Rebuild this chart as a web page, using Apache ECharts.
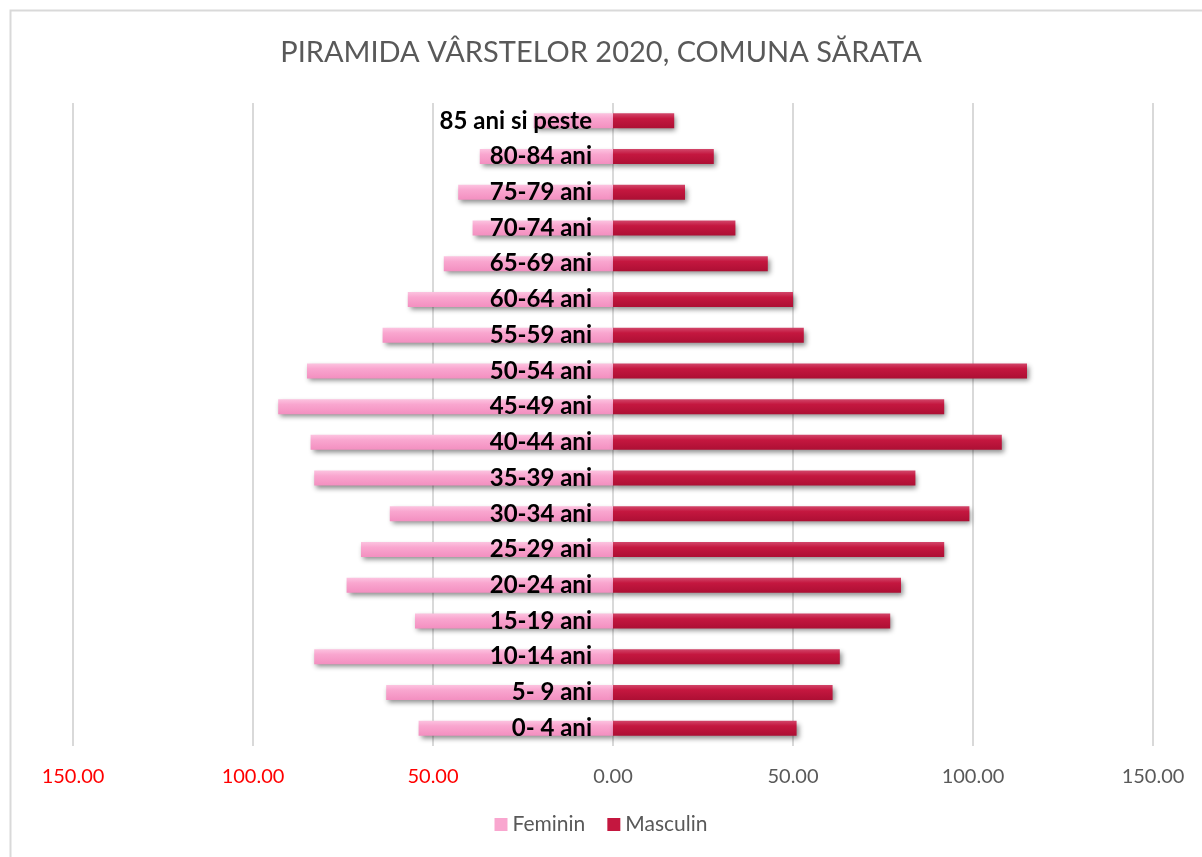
<!DOCTYPE html>
<html>
<head>
<meta charset="utf-8">
<title>Piramida varstelor 2020</title>
<script src="https://cdn.jsdelivr.net/npm/echarts@6/dist/echarts.min.js"></script>
<style>
  html, body { margin: 0; padding: 0; background: #fff; }
  #chart { width: 1202px; height: 857px; }
</style>
</head>
<body>
<div id="chart"></div>
<script>
const categories = [
  '0- 4 ani', '5- 9 ani', '10-14 ani', '15-19 ani', '20-24 ani', '25-29 ani',
  '30-34 ani', '35-39 ani', '40-44 ani', '45-49 ani', '50-54 ani', '55-59 ani',
  '60-64 ani', '65-69 ani', '70-74 ani', '75-79 ani', '80-84 ani', '85 ani si peste'
]
const feminin = [54, 63, 83, 55, 74, 70, 62, 83, 84, 93, 85, 64, 57, 47, 39, 43, 37, 22]
const masculin = [51, 61, 63, 77, 80, 92, 99, 84, 108, 92, 115, 53, 50, 43, 34, 20, 28, 17]
const xTicks = { min: -150, max: 150, step: 50 }

const gridLeft = 73
const gridRight = 49
const chartWidth = 1202

const chart = echarts.init(document.getElementById('chart'))

// category axis sits on the zero line: shift it right by the distance from the grid's left edge
const plotWidth = chartWidth - gridLeft - gridRight
const zeroOffset = plotWidth * (0 - xTicks.min) / (xTicks.max - xTicks.min)

const pinkFill = new echarts.graphic.LinearGradient(0, 0, 0, 1, [
  { offset: 0, color: '#fcc3e0' },
  { offset: 0.35, color: '#f9a6cf' },
  { offset: 1, color: '#f38fc0' }
])
const redFill = new echarts.graphic.LinearGradient(0, 0, 0, 1, [
  { offset: 0, color: '#d2466a' },
  { offset: 0.35, color: '#c4173f' },
  { offset: 1, color: '#ad0f34' }
])
const shadow = {
  shadowColor: 'rgba(0,0,0,0.45)',
  shadowBlur: 5,
  shadowOffsetX: 2,
  shadowOffsetY: 3
}

const option = {
  backgroundColor: '#fff',
  animation: false,
  graphic: [
    {
      type: 'rect',
      shape: { x: 10.5, y: 10.5, width: 1200, height: 860 },
      style: { fill: 'none', stroke: '#d9d9d9', lineWidth: 2 },
      silent: true
    }
  ],
  title: {
    text: 'PIRAMIDA VÂRSTELOR 2020, COMUNA SĂRATA',
    left: 'center',
    top: 33,
    textStyle: {
      fontFamily: 'Lato',
      fontWeight: 'normal',
      fontSize: 29,
      color: '#595959'
    }
  },
  legend: {
    bottom: 17,
    left: 'center',
    icon: 'rect',
    itemWidth: 13,
    itemHeight: 13,
    itemGap: 22,
    textStyle: { fontFamily: 'Lato', fontSize: 21, color: '#595959' },
    data: [
      { name: 'Feminin', itemStyle: { color: '#f9a6cf' } },
      { name: 'Masculin', itemStyle: { color: '#c4173f' } }
    ]
  },
  grid: {
    left: gridLeft,
    right: gridRight,
    top: 103,
    bottom: 111,
    containLabel: false,
    outerBoundsMode: 'none'
  },
  xAxis: {
    type: 'value',
    min: xTicks.min,
    max: xTicks.max,
    interval: xTicks.step,
    axisLine: { show: false },
    axisTick: { show: false },
    splitLine: { show: true, lineStyle: { color: '#d9d9d9', width: 2 } },
    axisLabel: {
      margin: 21,
      fontFamily: 'Lato',
      fontSize: 20,
      formatter: (v) => Math.abs(v).toFixed(2),
      color: (v) => (v < 0 ? '#ff0000' : '#595959')
    }
  },
  yAxis: {
    type: 'category',
    data: categories,
    z: 10,
    offset: -zeroOffset,
    axisLine: { show: false, onZero: false },
    axisTick: { show: false },
    splitLine: { show: false },
    axisLabel: {
      margin: 21,
      fontFamily: 'Lato',
      fontWeight: 'bold',
      fontSize: 24,
      color: '#000'
    }
  },
  series: [
    {
      name: 'Feminin',
      type: 'bar',
      stack: 'total',
      barWidth: 15,
      data: feminin.map((v) => -v),
      itemStyle: Object.assign({ color: pinkFill }, shadow)
    },
    {
      name: 'Masculin',
      type: 'bar',
      stack: 'total',
      barWidth: 15,
      data: masculin,
      itemStyle: Object.assign({ color: redFill }, shadow)
    }
  ]
}

chart.setOption(option)
window.addEventListener('resize', () => {
  chart.resize()
})
</script>
</body>
</html>
